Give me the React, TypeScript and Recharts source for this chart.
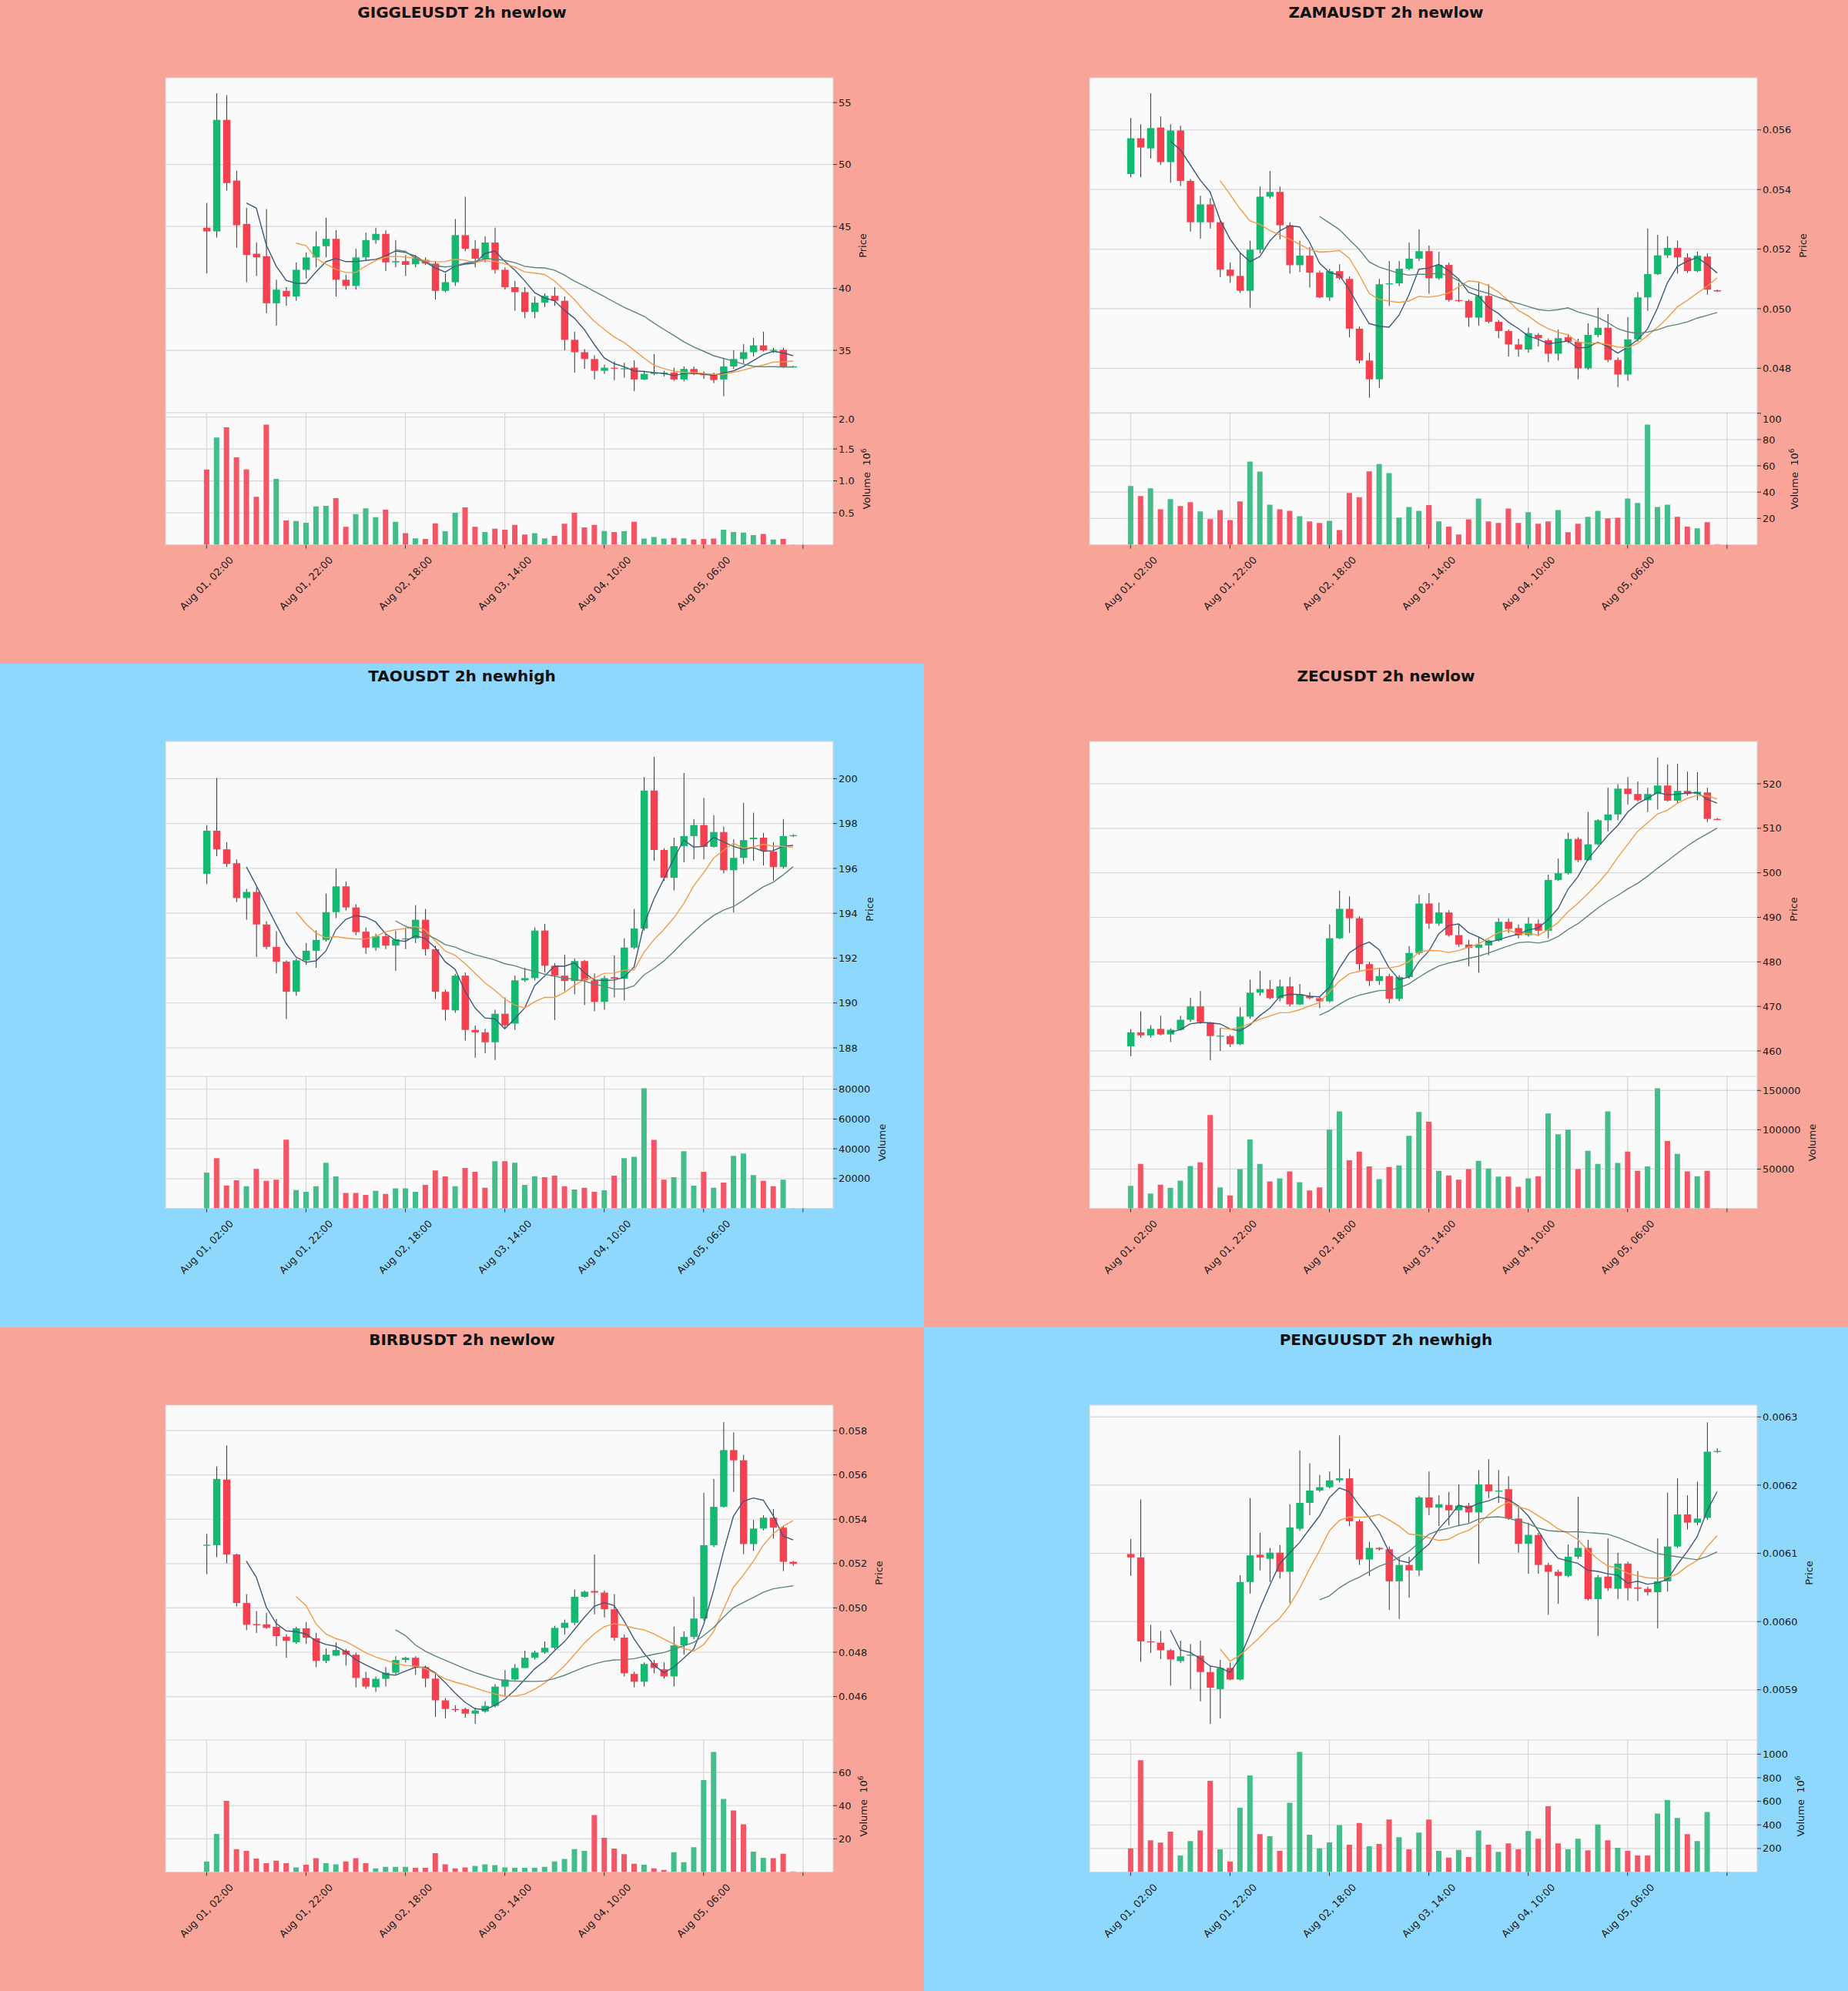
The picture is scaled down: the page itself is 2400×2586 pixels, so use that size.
import React from 'react';
import { ComposedChart, Bar, Line, XAxis, YAxis, CartesianGrid, Cell } from 'recharts';

type Row = [number, number, number, number, number]; // open, high, low, close, volume

const X_TICKS = [0, 10, 20, 30, 40, 50, 60];
const X_TICK_LABELS = ['Aug 01, 02:00', 'Aug 01, 22:00', 'Aug 02, 18:00', 'Aug 03, 14:00', 'Aug 04, 10:00', 'Aug 05, 06:00', ''];

const GIGGLE: Row[] = [
  [44.9, 46.9, 41.2, 44.6, 1.18], [44.6, 55.75, 44.1, 53.6, 1.68], [53.6, 55.6, 47.9, 48.5, 1.84], [48.7, 49.5, 43.3, 45.1, 1.37],
  [45.2, 46.5, 40.5, 42.7, 1.18], [42.8, 43.7, 41.0, 42.5, 0.75], [42.6, 46.4, 38.0, 38.8, 1.88], [38.8, 40.7, 37.0, 39.9, 1.03],
  [39.8, 40.1, 38.6, 39.35, 0.38], [39.35, 42.1, 39.0, 41.5, 0.37], [41.5, 42.9, 40.8, 42.5, 0.345], [42.5, 44.6, 41.7, 43.4, 0.6],
  [43.4, 45.7, 42.5, 44.0, 0.61], [44.0, 44.7, 39.35, 40.7, 0.73], [40.7, 41.1, 39.9, 40.2, 0.28], [40.2, 43.2, 39.9, 42.5, 0.48],
  [42.5, 44.5, 42.2, 43.9, 0.57], [43.9, 44.9, 43.6, 44.4, 0.43], [44.4, 44.7, 41.4, 42.1, 0.55], [42.1, 43.9, 41.7, 42.2, 0.36],
  [42.2, 42.7, 41.0, 41.9, 0.18], [41.95, 42.7, 41.7, 42.4, 0.1], [42.3, 42.5, 41.9, 42.0, 0.09], [42.0, 42.2, 39.1, 39.8, 0.335],
  [39.8, 41.2, 39.7, 40.5, 0.21], [40.5, 45.6, 40.2, 44.3, 0.5], [44.3, 47.4, 43.0, 43.2, 0.585], [43.2, 43.9, 41.7, 42.4, 0.28],
  [42.4, 44.2, 42.1, 43.7, 0.2], [43.7, 44.9, 41.2, 41.5, 0.25], [41.5, 41.7, 39.9, 40.1, 0.235], [40.1, 40.6, 38.2, 39.7, 0.31],
  [39.7, 40.1, 37.6, 38.1, 0.16], [38.1, 39.35, 37.6, 38.85, 0.18], [38.85, 39.6, 38.5, 39.4, 0.1], [39.4, 40.1, 38.6, 39.0, 0.14],
  [39.0, 39.35, 35.0, 35.85, 0.33], [35.85, 36.5, 33.2, 34.85, 0.5], [34.85, 35.1, 33.5, 34.3, 0.27], [34.3, 34.6, 32.65, 33.35, 0.31],
  [33.35, 33.85, 33.1, 33.6, 0.215], [33.6, 34.1, 32.6, 33.55, 0.2], [33.5, 34.0, 32.8, 33.55, 0.21], [33.6, 34.2, 31.7, 32.65, 0.36],
  [32.65, 33.35, 32.6, 33.1, 0.096], [33.1, 34.7, 33.0, 33.2, 0.12], [33.1, 33.35, 32.9, 33.2, 0.096], [33.2, 33.6, 32.55, 32.65, 0.105],
  [32.65, 33.7, 32.5, 33.5, 0.1], [33.5, 33.7, 33.0, 33.1, 0.08], [33.1, 33.3, 32.7, 33.0, 0.09], [33.1, 33.2, 32.35, 32.6, 0.096],
  [32.65, 34.35, 31.3, 33.7, 0.235], [33.7, 35.0, 33.5, 34.3, 0.2], [34.3, 35.5, 33.95, 34.85, 0.19], [34.85, 36.0, 34.5, 35.4, 0.15],
  [35.4, 36.5, 34.9, 35.0, 0.17], [35.0, 35.2, 34.8, 35.05, 0.08], [35.05, 35.2, 33.6, 33.7, 0.09], [33.7, 33.75, 33.65, 33.7, 0.005],
];

const ZAMA: Row[] = [
  [0.05452, 0.0564, 0.05441, 0.05572, 44.6], [0.05572, 0.05619, 0.05441, 0.05541, 37.1], [0.05538, 0.05723, 0.05504, 0.05606, 42.9],
  [0.05608, 0.05645, 0.05483, 0.05492, 27.0], [0.05492, 0.05619, 0.05423, 0.05598, 34.7], [0.05598, 0.05614, 0.05412, 0.05429, 29.4],
  [0.05429, 0.05435, 0.05259, 0.0529, 32.4], [0.0529, 0.05379, 0.05235, 0.0535, 25.4], [0.0535, 0.05371, 0.05269, 0.0529, 19.5],
  [0.0529, 0.05295, 0.05106, 0.05131, 26.3], [0.05131, 0.05155, 0.05087, 0.0511, 18.8], [0.0511, 0.05189, 0.05053, 0.0506, 32.9],
  [0.0506, 0.05228, 0.05003, 0.05198, 63.3], [0.05198, 0.0541, 0.05186, 0.05376, 55.6], [0.05376, 0.05462, 0.0537, 0.05392, 30.5],
  [0.05392, 0.0541, 0.05233, 0.0528, 27.0], [0.0528, 0.0529, 0.05118, 0.05146, 25.8], [0.05146, 0.05228, 0.05123, 0.05178, 21.6],
  [0.05178, 0.05207, 0.05071, 0.05121, 17.7], [0.05121, 0.05128, 0.05035, 0.05038, 16.5], [0.05038, 0.05134, 0.05026, 0.05126, 18.1],
  [0.05126, 0.05149, 0.05097, 0.05102, 11.1], [0.051, 0.05108, 0.04904, 0.04933, 39.4], [0.04933, 0.0494, 0.04816, 0.04826, 36.1],
  [0.04826, 0.04852, 0.04701, 0.04763, 55.8], [0.04763, 0.051, 0.04734, 0.05082, 61.4], [0.05082, 0.0516, 0.05009, 0.05085, 54.4],
  [0.05085, 0.0516, 0.05076, 0.05134, 20.7], [0.05134, 0.05222, 0.05129, 0.05168, 28.7], [0.05168, 0.05266, 0.0516, 0.05193, 25.8],
  [0.05193, 0.05212, 0.0505, 0.05102, 30.1], [0.05102, 0.05191, 0.05097, 0.05147, 17.7], [0.05147, 0.05155, 0.05024, 0.05029, 13.7],
  [0.05029, 0.05087, 0.05022, 0.05026, 7.8], [0.05026, 0.0503, 0.04939, 0.0497, 19.3], [0.0497, 0.05087, 0.04943, 0.05043, 35.2],
  [0.05043, 0.05082, 0.04951, 0.04956, 17.7], [0.04956, 0.04962, 0.04901, 0.04925, 16.5], [0.04925, 0.0493, 0.04839, 0.0488, 27.5],
  [0.0488, 0.04899, 0.04839, 0.04863, 16.5], [0.04863, 0.04936, 0.04852, 0.04918, 24.7], [0.04912, 0.04918, 0.04873, 0.04901, 16.0],
  [0.04894, 0.049, 0.04821, 0.04849, 17.7], [0.04849, 0.0493, 0.04826, 0.04901, 26.3], [0.04904, 0.04915, 0.04884, 0.04889, 9.5],
  [0.04889, 0.04899, 0.04763, 0.048, 16.0], [0.048, 0.04951, 0.04795, 0.04912, 21.2], [0.04912, 0.05003, 0.04904, 0.04936, 25.8],
  [0.04936, 0.04982, 0.04821, 0.04828, 20.0], [0.04828, 0.04836, 0.04737, 0.04779, 20.5], [0.04779, 0.04972, 0.04758, 0.04897, 35.2],
  [0.04897, 0.05056, 0.04889, 0.05038, 31.7], [0.05038, 0.05269, 0.04993, 0.05116, 91.3], [0.05116, 0.05248, 0.05113, 0.05179, 28.7],
  [0.05179, 0.05243, 0.0517, 0.05204, 30.5], [0.05204, 0.05228, 0.05118, 0.05172, 21.2], [0.05172, 0.05186, 0.0512, 0.05126, 13.7],
  [0.05126, 0.05191, 0.05123, 0.05178, 12.5], [0.05175, 0.05186, 0.05047, 0.05064, 17.2], [0.05062, 0.05064, 0.05056, 0.05058, 0.5],
];

const TAO: Row[] = [
  [195.76, 197.93, 195.3, 197.68, 24000], [197.68, 200.03, 196.54, 196.85, 33700], [196.85, 197.17, 196.06, 196.2, 15400],
  [196.23, 196.4, 194.5, 194.68, 18900], [194.68, 195.09, 193.71, 194.95, 14800], [194.95, 195.16, 192.05, 193.5, 26500],
  [193.5, 193.64, 192.4, 192.5, 18500], [192.5, 193.2, 191.32, 191.84, 19300], [191.84, 191.9, 189.29, 190.5, 46200],
  [190.5, 191.98, 190.32, 191.9, 12300], [191.9, 192.67, 191.7, 192.33, 11100], [192.33, 193.23, 191.57, 192.81, 14800],
  [192.81, 194.88, 192.74, 194.05, 30600], [194.05, 195.99, 193.78, 195.2, 21400], [195.2, 195.41, 194.12, 194.26, 10300],
  [194.26, 194.4, 193.02, 193.16, 10300], [193.18, 193.36, 192.19, 192.47, 9000], [192.47, 193.09, 192.33, 192.98, 11700],
  [192.98, 193.09, 192.4, 192.56, 9700], [192.56, 193.23, 191.43, 192.84, 13400], [192.84, 193.36, 192.4, 192.88, 13400],
  [192.88, 194.36, 192.67, 193.71, 11100], [193.71, 194.19, 192.12, 192.4, 15800], [192.4, 192.55, 190.18, 190.5, 25500],
  [190.5, 190.6, 189.22, 189.7, 21400], [189.67, 191.29, 189.56, 191.22, 14800], [191.22, 191.36, 188.32, 188.8, 27100],
  [188.8, 189.0, 187.56, 188.69, 24500], [188.69, 188.85, 187.76, 188.25, 13800], [188.25, 189.7, 187.46, 189.52, 31600],
  [189.52, 190.25, 188.87, 189.0, 31600], [189.08, 191.22, 188.8, 191.01, 30600], [191.01, 191.57, 190.94, 191.11, 15800],
  [191.11, 193.36, 191.01, 193.23, 21600], [193.23, 193.53, 191.36, 191.66, 21000], [191.66, 191.77, 189.24, 191.22, 22000],
  [191.22, 192.15, 190.53, 190.98, 14800], [190.98, 191.98, 190.39, 191.87, 12700], [191.87, 191.92, 189.91, 191.01, 13800],
  [191.01, 191.32, 189.63, 190.05, 11100], [190.05, 191.22, 189.7, 191.11, 12100], [191.15, 192.12, 190.25, 191.08, 22000],
  [191.08, 192.88, 190.11, 192.47, 33700], [192.47, 194.19, 192.4, 193.32, 34700], [193.32, 200.07, 193.23, 199.47, 80600],
  [199.47, 200.97, 196.34, 196.82, 46000], [196.82, 196.9, 195.44, 195.58, 19300], [195.58, 197.37, 195.02, 196.99, 21000],
  [196.99, 200.25, 196.27, 197.44, 38400], [197.44, 198.2, 196.4, 197.93, 15200], [197.93, 199.14, 196.4, 196.96, 24500],
  [196.96, 198.37, 196.93, 197.62, 13800], [197.62, 197.86, 195.78, 195.92, 17300], [195.92, 197.3, 194.03, 196.47, 35300],
  [196.47, 198.92, 196.2, 197.26, 36800], [197.3, 198.48, 196.34, 197.37, 22400], [197.37, 197.58, 196.13, 196.79, 18500],
  [196.75, 197.17, 195.46, 196.06, 14800], [196.06, 198.2, 195.99, 197.44, 19300], [197.44, 197.52, 197.4, 197.48, 300],
];

const ZEC: Row[] = [
  [461.05, 464.9, 458.8, 464.18, 28600], [464.18, 468.9, 463.0, 463.5, 56600], [463.5, 465.8, 463.0, 464.95, 18900],
  [464.95, 467.9, 463.5, 463.7, 30100], [463.7, 465.1, 462.0, 464.75, 26300], [464.75, 467.9, 464.6, 467.0, 35200],
  [467.0, 471.9, 466.5, 470.0, 53900], [470.0, 473.45, 466.1, 466.5, 58500], [466.4, 466.5, 457.9, 463.35, 118800],
  [463.3, 465.1, 460.0, 463.45, 26600], [463.35, 463.7, 460.9, 461.5, 16500], [461.5, 469.8, 461.3, 467.7, 50000],
  [467.7, 476.0, 467.2, 473.1, 87700], [473.1, 478.0, 472.4, 473.9, 56600], [473.9, 475.9, 471.6, 471.85, 34400],
  [471.85, 476.0, 471.15, 474.5, 38300], [474.5, 476.6, 470.0, 470.45, 46900], [470.45, 475.05, 470.3, 472.75, 33300],
  [472.3, 473.2, 471.6, 471.85, 22800], [471.85, 472.3, 469.6, 471.15, 26600], [471.15, 488.4, 470.9, 485.3, 100200],
  [485.3, 496.0, 485.1, 491.9, 123500], [491.9, 494.7, 486.5, 489.8, 61300], [489.8, 490.2, 478.1, 479.5, 72200],
  [479.5, 480.0, 474.6, 475.7, 53500], [475.7, 478.7, 474.8, 476.8, 37100], [476.8, 477.3, 470.7, 471.7, 52700],
  [471.7, 477.0, 471.15, 476.6, 54700], [476.6, 483.55, 476.2, 482.0, 92400], [482.0, 495.05, 481.6, 493.1, 122700],
  [493.1, 495.4, 487.4, 488.6, 110300], [488.6, 493.3, 488.1, 491.1, 47700], [491.1, 491.6, 485.65, 486.0, 41800],
  [486.0, 488.4, 483.4, 483.9, 36400], [483.9, 484.95, 479.0, 483.2, 50000], [483.2, 485.65, 477.6, 483.9, 60500],
  [483.7, 485.0, 481.5, 484.8, 50800], [484.8, 489.8, 484.6, 489.0, 40300], [489.0, 489.8, 486.5, 487.4, 40300],
  [487.6, 488.4, 485.3, 486.0, 27400], [486.0, 490.0, 485.65, 488.6, 38300], [488.6, 489.5, 485.8, 487.0, 41000],
  [487.0, 499.6, 485.3, 498.4, 120800], [498.4, 503.2, 498.2, 499.9, 94300], [499.9, 509.0, 499.6, 507.6, 100200],
  [507.6, 508.0, 502.4, 502.85, 50000], [502.85, 513.65, 502.7, 506.4, 73300], [506.4, 512.0, 506.2, 511.8, 56600],
  [511.8, 519.1, 509.3, 513.1, 123500], [513.1, 519.9, 511.8, 518.9, 57800], [518.9, 521.5, 515.3, 517.7, 72200],
  [517.7, 520.5, 516.0, 516.3, 47700], [516.3, 519.1, 513.65, 517.7, 53500], [517.7, 525.9, 514.2, 519.6, 152700],
  [519.6, 524.3, 516.0, 516.2, 85800], [516.2, 524.5, 515.6, 518.4, 69400], [518.4, 522.7, 517.35, 517.7, 46900],
  [517.7, 522.6, 516.3, 518.2, 41000], [518.05, 519.1, 511.4, 512.1, 47700], [512.1, 512.3, 511.8, 511.9, 500],
];

const BIRB: Row[] = [
  [0.05282, 0.05334, 0.05152, 0.05285, 6.4], [0.05283, 0.05638, 0.05229, 0.05582, 22.9], [0.05579, 0.05733, 0.05201, 0.05241, 42.9],
  [0.05241, 0.05245, 0.05006, 0.05022, 13.8], [0.05022, 0.05062, 0.049, 0.04924, 12.7], [0.04927, 0.04985, 0.04887, 0.04922, 8.1],
  [0.04926, 0.04978, 0.04905, 0.0491, 5.3], [0.04915, 0.0495, 0.04827, 0.04873, 6.8], [0.0487, 0.0488, 0.04775, 0.04852, 5.3],
  [0.04845, 0.04915, 0.04838, 0.04908, 2.75], [0.04908, 0.04936, 0.04838, 0.04866, 4.4], [0.04863, 0.04887, 0.04733, 0.04761, 8.3],
  [0.04761, 0.04817, 0.04751, 0.04789, 5.3], [0.04785, 0.04845, 0.04782, 0.0481, 4.6], [0.04807, 0.04815, 0.0474, 0.04789, 6.4],
  [0.04789, 0.04798, 0.04642, 0.04684, 8.3], [0.04684, 0.04712, 0.04635, 0.04645, 5.3], [0.04642, 0.0469, 0.04621, 0.0468, 2.2],
  [0.0468, 0.04733, 0.04645, 0.04708, 3.1], [0.04708, 0.04782, 0.04698, 0.04765, 3.1], [0.04765, 0.0478, 0.04754, 0.04775, 3.1],
  [0.04775, 0.04782, 0.04698, 0.04733, 2.6], [0.04733, 0.0474, 0.04642, 0.04681, 2.6], [0.04681, 0.04705, 0.04509, 0.04583, 11.4],
  [0.04583, 0.04593, 0.04502, 0.04544, 4.6], [0.04544, 0.04561, 0.0453, 0.0454, 2.2], [0.04544, 0.0455, 0.04505, 0.04523, 2.75],
  [0.04523, 0.0455, 0.04477, 0.04537, 3.7], [0.04533, 0.04579, 0.04527, 0.04558, 4.6], [0.04558, 0.04656, 0.04551, 0.04645, 4.2],
  [0.04645, 0.04719, 0.046, 0.04677, 2.75], [0.04677, 0.04747, 0.04673, 0.04729, 2.6], [0.04729, 0.04807, 0.04729, 0.04775, 2.6],
  [0.04775, 0.04807, 0.04768, 0.04799, 2.6], [0.04799, 0.04849, 0.04793, 0.0482, 3.1], [0.0482, 0.04919, 0.04813, 0.0491, 6.4],
  [0.0491, 0.04947, 0.0488, 0.04933, 7.9], [0.04933, 0.05083, 0.04922, 0.0505, 13.8], [0.0505, 0.05078, 0.05047, 0.05073, 12.8],
  [0.05076, 0.05241, 0.04971, 0.05069, 34.3], [0.05069, 0.05078, 0.04957, 0.04994, 20.6], [0.04994, 0.05062, 0.04852, 0.04866, 14.1],
  [0.04866, 0.0488, 0.04691, 0.04705, 10.8], [0.04702, 0.04712, 0.04642, 0.04667, 5.0], [0.04667, 0.04754, 0.04645, 0.04747, 4.4],
  [0.04751, 0.04765, 0.04705, 0.04729, 2.2], [0.04723, 0.04754, 0.04681, 0.04691, 1.3], [0.04691, 0.04915, 0.04645, 0.04831, 11.9],
  [0.04831, 0.04894, 0.04789, 0.04869, 5.9], [0.04869, 0.0505, 0.04859, 0.04952, 15.0], [0.04952, 0.0552, 0.04943, 0.05283, 55.4],
  [0.05283, 0.05582, 0.05274, 0.05456, 72.3], [0.05456, 0.05838, 0.05453, 0.05712, 44.0], [0.05712, 0.05792, 0.05523, 0.05666, 37.1],
  [0.05666, 0.05691, 0.05243, 0.05288, 28.8], [0.05288, 0.05397, 0.05257, 0.05358, 12.3], [0.05358, 0.05418, 0.0535, 0.05407, 8.6],
  [0.05407, 0.05446, 0.05313, 0.05362, 8.3], [0.05362, 0.0537, 0.05166, 0.05208, 11.0], [0.05208, 0.05212, 0.0519, 0.05199, 0.3],
];

const PENGU: Row[] = [
  [0.006099, 0.006121, 0.006067, 0.006094, 200], [0.006094, 0.006179, 0.005941, 0.005971, 948], [0.005971, 0.005995, 0.005954, 0.00597, 270],
  [0.005969, 0.005986, 0.005945, 0.005958, 249], [0.005958, 0.00596, 0.005906, 0.0059445, 342], [0.005942, 0.005972, 0.005939, 0.005949, 141],
  [0.00595, 0.005967, 0.005901, 0.0059515, 262], [0.00595, 0.005972, 0.005883, 0.005926, 352], [0.005926, 0.005935, 0.00585, 0.005903, 773],
  [0.005901, 0.005944, 0.005858, 0.005932, 192], [0.005932, 0.00594, 0.005914, 0.005915, 89], [0.005915, 0.006068, 0.005914, 0.006058, 546],
  [0.006058, 0.006181, 0.006041, 0.006097, 819], [0.006098, 0.00613, 0.006075, 0.006094, 321], [0.006092, 0.006108, 0.006058, 0.006101, 303],
  [0.006101, 0.006112, 0.006063, 0.006073, 179], [0.006073, 0.006172, 0.006027, 0.006138, 587], [0.006136, 0.006251, 0.006133, 0.006174, 1018],
  [0.006174, 0.006232, 0.006156, 0.006192, 316], [0.006192, 0.006215, 0.00619, 0.006197, 200], [0.006197, 0.00622, 0.006195, 0.006207, 252],
  [0.006207, 0.006273, 0.006204, 0.00621, 399], [0.00621, 0.006224, 0.00614, 0.006147, 231], [0.006147, 0.00615, 0.006083, 0.006091, 417],
  [0.006091, 0.006117, 0.006067, 0.006108, 218], [0.006108, 0.006109, 0.006104, 0.006106, 239], [0.006106, 0.00611, 0.006017, 0.006059, 445],
  [0.006059, 0.006095, 0.006004, 0.006083, 295], [0.006083, 0.006095, 0.006035, 0.006075, 192], [0.006075, 0.006184, 0.006067, 0.006182, 334],
  [0.006182, 0.00622, 0.006156, 0.006167, 445], [0.006167, 0.006185, 0.00614, 0.006172, 179], [0.006171, 0.00619, 0.006141, 0.006163, 123],
  [0.006163, 0.006201, 0.00614, 0.00617, 187], [0.00617, 0.006174, 0.006145, 0.00616, 128], [0.00616, 0.006222, 0.006085, 0.006201, 352],
  [0.006201, 0.006238, 0.006181, 0.006191, 231], [0.006191, 0.006222, 0.006174, 0.006192, 172], [0.006194, 0.006213, 0.006149, 0.006151, 244],
  [0.006151, 0.006167, 0.006101, 0.006114, 192], [0.006114, 0.006145, 0.00607, 0.006127, 347], [0.006127, 0.00613, 0.00607, 0.006083, 283],
  [0.006083, 0.006086, 0.00601, 0.006073, 559], [0.006073, 0.006076, 0.006026, 0.006067, 244], [0.006067, 0.006113, 0.006065, 0.006095, 192],
  [0.006095, 0.006183, 0.006092, 0.006108, 283], [0.006108, 0.00612, 0.006031, 0.006033, 184], [0.006033, 0.006068, 0.005979, 0.006065, 404],
  [0.006066, 0.006122, 0.006045, 0.006049, 270], [0.006048, 0.006101, 0.006033, 0.006085, 205], [0.006085, 0.006088, 0.006031, 0.006049, 179],
  [0.00605, 0.006074, 0.00603, 0.006048, 141], [0.006048, 0.006051, 0.006038, 0.006043, 141], [0.006043, 0.006122, 0.00599, 0.006059, 497],
  [0.006059, 0.006189, 0.006044, 0.00611, 610], [0.00611, 0.00621, 0.006108, 0.006157, 458], [0.006157, 0.006185, 0.006135, 0.006145, 321],
  [0.006145, 0.006205, 0.006141, 0.006151, 262], [0.006152, 0.006292, 0.006149, 0.006249, 510], [0.006249, 0.006254, 0.006247, 0.00625, 3],
];

const GIGGLE_PRICE_TICKS = [35, 40, 45, 50, 55];
const GIGGLE_VOL_TICKS = [0.5, 1.0, 1.5, 2.0];
const ZAMA_PRICE_TICKS = [0.048, 0.05, 0.052, 0.054, 0.056];
const ZAMA_VOL_TICKS = [20, 40, 60, 80, 100];
const TAO_PRICE_TICKS = [188, 190, 192, 194, 196, 198, 200];
const TAO_VOL_TICKS = [20000, 40000, 60000, 80000];
const ZEC_PRICE_TICKS = [460, 470, 480, 490, 500, 510, 520];
const ZEC_VOL_TICKS = [50000, 100000, 150000];
const BIRB_PRICE_TICKS = [0.046, 0.048, 0.05, 0.052, 0.054, 0.056, 0.058];
const BIRB_VOL_TICKS = [20, 40, 60];
const PENGU_PRICE_TICKS = [0.0059, 0.006, 0.0061, 0.0062, 0.0063];
const PENGU_VOL_TICKS = [200, 400, 600, 800, 1000];

const SALMON = '#F8A498';
const SKY = '#8ED8FE';
const UP = '#15b870';
const DOWN = '#f5414f';
const VOL_UP = '#45bd8b';
const VOL_DOWN = '#f35666';
const WICK = '#333333';
const MA5 = '#3d5a78';
const MA10 = '#f29b45';
const MA20 = '#5e8577';
const GRID = '#d6d6d6';
const FONT = '"DejaVu Sans", Verdana, sans-serif';

const X_DOMAIN: [number, number] = [-4.13, 63.03];

type PanelCfg = {
  title: string; bg: string; rows: Row[];
  priceDomain: [number, number]; priceTicks: number[]; priceFmt: (v: number) => string;
  volTicks: number[]; volFmt: (v: number) => string; volExp: boolean;
  priceLabelX: number; volLabelX: number;
};

const PANELS: PanelCfg[] = [
  { title: 'GIGGLEUSDT 2h newlow', bg: SALMON, rows: GIGGLE, priceDomain: [29.97, 57.0], priceTicks: GIGGLE_PRICE_TICKS, priceFmt: v => String(v),
    volTicks: GIGGLE_VOL_TICKS, volFmt: v => v.toFixed(1), volExp: true, priceLabelX: 1120, volLabelX: 1124 },
  { title: 'ZAMAUSDT 2h newlow', bg: SALMON, rows: ZAMA, priceDomain: [0.04651, 0.05775], priceTicks: ZAMA_PRICE_TICKS, priceFmt: v => v.toFixed(3),
    volTicks: ZAMA_VOL_TICKS, volFmt: v => String(v), volExp: true, priceLabelX: 1141, volLabelX: 1129 },
  { title: 'TAOUSDT 2h newhigh', bg: SKY, rows: TAO, priceDomain: [186.73, 201.66], priceTicks: TAO_PRICE_TICKS, priceFmt: v => String(v),
    volTicks: TAO_VOL_TICKS, volFmt: v => String(v), volExp: false, priceLabelX: 1129, volLabelX: 1145 },
  { title: 'ZECUSDT 2h newlow', bg: SALMON, rows: ZEC, priceDomain: [454.3, 529.5], priceTicks: ZEC_PRICE_TICKS, priceFmt: v => String(v),
    volTicks: ZEC_VOL_TICKS, volFmt: v => String(v), volExp: false, priceLabelX: 1129, volLabelX: 1153 },
  { title: 'BIRBUSDT 2h newlow', bg: SALMON, rows: BIRB, priceDomain: [0.04404, 0.05915], priceTicks: BIRB_PRICE_TICKS, priceFmt: v => v.toFixed(3),
    volTicks: BIRB_VOL_TICKS, volFmt: v => String(v), volExp: true, priceLabelX: 1141, volLabelX: 1120 },
  { title: 'PENGUUSDT 2h newhigh', bg: SKY, rows: PENGU, priceDomain: [0.0058264, 0.0063173], priceTicks: PENGU_PRICE_TICKS, priceFmt: v => v.toFixed(4),
    volTicks: PENGU_VOL_TICKS, volFmt: v => String(v), volExp: true, priceLabelX: 1149, volLabelX: 1137 },
];

const Candle = (props: any) => {
  const { x, y, width, height, payload } = props;
  if (x == null || y == null || !payload) return null;
  const { o, h, l, c } = payload;
  const top = Math.min(y, y + height);
  const hgt = Math.abs(height);
  const ppu = h - l > 0 ? hgt / (h - l) : 0;
  const cx = x + width / 2;
  const yOf = (v: number) => top + (h - v) * ppu;
  const bTop = yOf(Math.max(o, c));
  const bBot = yOf(Math.min(o, c));
  const color = c >= o ? UP : DOWN;
  return (
    <g>
      <line x1={cx} x2={cx} y1={top} y2={top + hgt} stroke={WICK} strokeWidth={1} />
      <rect x={x} y={bTop} width={width} height={Math.max(bBot - bTop, 1.3)} fill={color} />
    </g>
  );
};

const XTick = (props: any) => {
  const { x, y, payload } = props;
  const idx = X_TICKS.indexOf(payload.value);
  const label = idx >= 0 ? X_TICK_LABELS[idx] : '';
  if (!label) return null;
  return (
    <g transform={`translate(${x},${y + 43}) rotate(-45)`}>
      <text x={0} y={0} textAnchor="middle" dominantBaseline="central" fontSize={13} fontFamily={FONT} fill="#1a1a1a">{label}</text>
    </g>
  );
};

function buildData(rows: Row[]) {
  const data: any[] = rows.map((r, i) => {
    const [o, h0, l0, c, v] = r;
    return { i, o, h: Math.max(h0, o, c), l: Math.min(l0, o, c), c, v, up: c >= o };
  });
  [5, 10, 20].forEach(n => {
    data.forEach((d, i) => {
      if (i < n - 1) { d['ma' + n] = null; return; }
      let s = 0;
      for (let k = i - n + 1; k <= i; k++) s += data[k].c;
      d['ma' + n] = s / n;
    });
  });
  return data;
}

const tickStyle = { fontSize: 13, fill: '#1a1a1a', fontFamily: FONT };

function Panel({ cfg, left, top }: { cfg: PanelCfg; left: number; top: number }) {
  const data = buildData(cfg.rows);
  const vmax = Math.max(...data.map(d => d.v));
  const volDomain: [number, number] = [0, vmax * 1.1];
  return (
    <div style={{ position: 'absolute', left, top, width: 1200, height: 862, background: cfg.bg, overflow: 'hidden' }}>
      <div style={{ position: 'absolute', top: 6, left: 0, width: 1200, textAlign: 'center', fontFamily: FONT, fontWeight: 'bold', fontSize: 20, lineHeight: '21px', color: '#111' }}>
        {cfg.title}
      </div>
      <div style={{ position: 'absolute', left: 0, top: 0 }}>
        <ComposedChart width={1200} height={536} data={data} margin={{ top: 101, right: 0, bottom: 0, left: 215 }}>
          <CartesianGrid fill="#fafafa" stroke={GRID} strokeWidth={1.2} />
          <XAxis type="number" dataKey="i" domain={X_DOMAIN} ticks={X_TICKS} allowDataOverflow height={0} tick={false} axisLine={false} tickLine={false} />
          <YAxis orientation="right" type="number" domain={cfg.priceDomain} ticks={cfg.priceTicks} allowDataOverflow width={118}
            axisLine={false} tickLine={{ stroke: '#333', strokeWidth: 1 }} tickSize={5} tick={tickStyle} tickFormatter={cfg.priceFmt} />
          <Bar dataKey={(d: any) => [d.l, d.h]} barSize={9.5} shape={(p: any) => <Candle {...p} />} isAnimationActive={false} />
          <Line type="linear" dataKey="ma5" stroke={MA5} strokeWidth={1.4} dot={false} activeDot={false} isAnimationActive={false} />
          <Line type="linear" dataKey="ma10" stroke={MA10} strokeWidth={1.4} dot={false} activeDot={false} isAnimationActive={false} />
          <Line type="linear" dataKey="ma20" stroke={MA20} strokeWidth={1.4} dot={false} activeDot={false} isAnimationActive={false} />
        </ComposedChart>
      </div>
      <div style={{ position: 'absolute', left: 0, top: 536 }}>
        <ComposedChart width={1200} height={326} data={data} margin={{ top: 0, right: 0, bottom: 0, left: 215 }}>
          <CartesianGrid fill="#fafafa" stroke={GRID} strokeWidth={1.2} />
          <XAxis type="number" dataKey="i" domain={X_DOMAIN} ticks={X_TICKS} allowDataOverflow height={154.5} interval={0}
            axisLine={false} tickLine={{ stroke: '#333', strokeWidth: 1 }} tickSize={5} tick={<XTick />} />
          <YAxis orientation="right" type="number" domain={volDomain} ticks={cfg.volTicks} allowDataOverflow width={118}
            axisLine={false} tickLine={{ stroke: '#333', strokeWidth: 1 }} tickSize={5} tick={tickStyle} tickFormatter={cfg.volFmt} />
          <Bar dataKey="v" barSize={7} isAnimationActive={false}>
            {data.map((d, k) => <Cell key={k} fill={d.up ? VOL_UP : VOL_DOWN} />)}
          </Bar>
        </ComposedChart>
      </div>
      <div style={{ position: 'absolute', left: cfg.priceLabelX, top: 318.5, transform: 'translate(-50%, -50%) rotate(-90deg)', fontFamily: FONT, fontSize: 13, color: '#1a1a1a', whiteSpace: 'nowrap', lineHeight: '15px' }}>
        Price
      </div>
      <div style={{ position: 'absolute', left: cfg.volLabelX, top: 622, transform: 'translate(-50%, -50%) rotate(-90deg)', fontFamily: FONT, fontSize: 13, color: '#1a1a1a', whiteSpace: 'nowrap', lineHeight: '15px' }}>
        {cfg.volExp ? <span>Volume&nbsp;&nbsp;10<sup style={{ fontSize: 9, verticalAlign: '5px' }}>6</sup></span> : 'Volume'}
      </div>
    </div>
  );
}

export default function App() {
  return (
    <div style={{ position: 'relative', width: 2400, height: 2586, overflow: 'hidden' }}>
      <style>{'body{margin:0;}'}</style>
      {PANELS.map((cfg, k) => (
        <Panel key={k} cfg={cfg} left={(k % 2) * 1200} top={Math.floor(k / 2) * 862} />
      ))}
    </div>
  );
}
